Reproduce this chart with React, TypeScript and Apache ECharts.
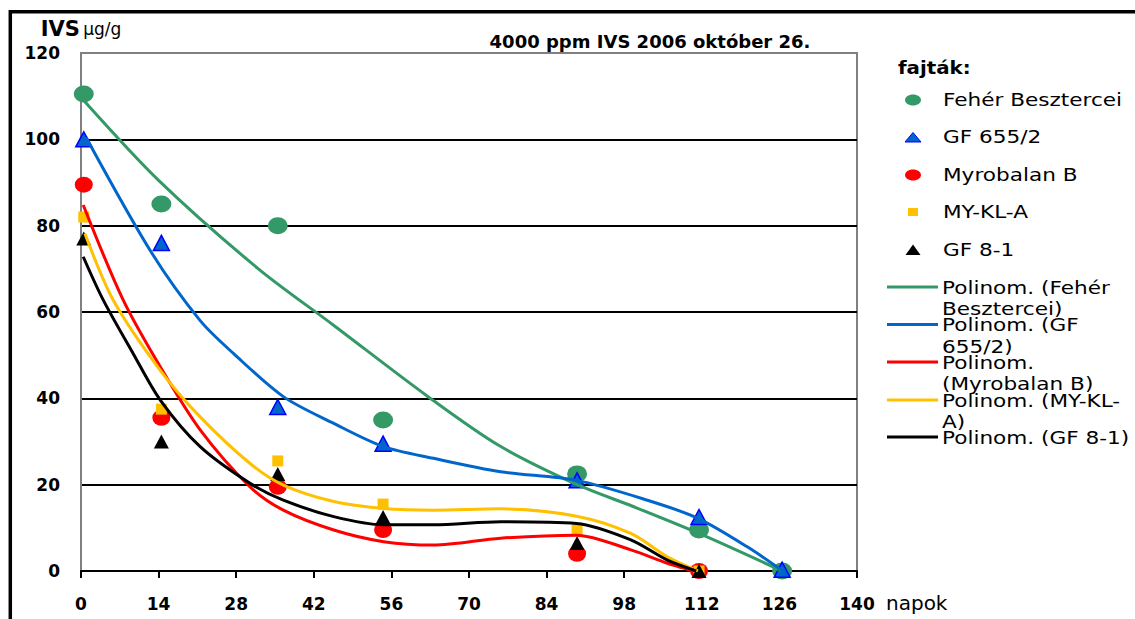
import React, { useEffect, useRef } from "react";
import * as echarts from "echarts";

const FONT = "DejaVu Sans";

// sampling days (napok) of the measured points
const days = [0.5, 14.5, 35.5, 54.5, 89.5, 111.5, 126.5];

// measured IVS values (µg/g)
const feherBesztercei = [110.5, 85, 80, 35, 22.5, 9.5, 0];
const gf6552 = [100, 76, 38, 29.5, 21, 12.5, 0.3];
const myrobalanB = [89.5, 35.5, 19.5, 9.5, 4, 0];
const myKlA = [82, 37.5, 25.5, 15.5, 9.5, 0];
const gf81 = [77, 30, 22.5, 12.5, 6.5, 0];

// polynomial trend curves as [day, value]
const trendFeher = [[0.5, 109], [14, 90.5], [32, 70], [45.5, 57], [62.5, 40.5], [75.5, 29], [89.5, 20], [99.5, 15], [111.5, 8.7], [126.5, 0]];
const trendGf6552 = [[0.9, 100.5], [12.8, 73.6], [21.5, 58], [27.5, 50.4], [36.5, 40.4], [45.6, 34.2], [54.6, 28.8], [63.6, 26.1], [75.7, 23], [89.4, 21], [102.2, 16.4], [111.3, 12.2], [120.2, 5.6], [126.6, 0]];
const trendMyrobalan = [[0.4, 84.8], [7.6, 62.8], [14.3, 47.3], [21.5, 32.7], [30.5, 19.5], [36.5, 14.1], [45.6, 9.5], [54.6, 6.8], [63.6, 6], [75.7, 7.6], [89.4, 8.3], [99.2, 4.9], [105.8, 1.8], [110.5, 0]];
const trendMyKlA = [[0.7, 78.2], [5.8, 62.8], [14.3, 46.5], [21.5, 35.7], [30.5, 24.9], [36.5, 19.9], [45.6, 16.1], [54.6, 14.5], [63.6, 14.1], [75.7, 14.4], [89.4, 12.7], [99.2, 8.7], [105.8, 3.3], [111.3, 0]];
const trendGf81 = [[0.4, 72.8], [4, 62.8], [9.4, 50.4], [14.3, 39.6], [21.5, 28.8], [30.5, 20.3], [36.5, 16.4], [45.6, 12.6], [54.6, 10.7], [63.6, 10.7], [75.7, 11.4], [89.4, 11], [99.2, 7.2], [105.8, 2.5], [111, 0]];

const varietyNames = ["Fehér Besztercei", "GF 655/2", "Myrobalan B", "MY-KL-A", "GF 8-1"];
const trendLegendLines = [
  ["Polinom. (Fehér", "Besztercei)"],
  ["Polinom. (GF", "655/2)"],
  ["Polinom.", "(Myrobalan B)"],
  ["Polinom. (MY-KL-", "A)"],
  ["Polinom. (GF 8-1)"],
];
const titleText = "4000 ppm IVS 2006 október 26.";
const legendTitle = "fajták:";

const GREEN = "#339966";
const BLUE = "#0066cc";
const BLUE_EDGE = "#0000ff";
const RED = "#ff0000";
const YELLOW = "#ffc000";
const BLACK = "#000000";

const ELLIPSE = "path://M0,9 A10,9 0 1 1 20,9 A10,9 0 1 1 0,9 Z";

export default function App() {
  const ref = useRef<HTMLDivElement>(null);

  useEffect(() => {
    if (!ref.current) return;
    const chart = echarts.init(ref.current, null, { renderer: "svg" });

    const measured = [feherBesztercei, gf6552, myrobalanB, myKlA, gf81];
    const trends = [trendFeher, trendGf6552, trendMyrobalan, trendMyKlA, trendGf81];
    const colors = [GREEN, BLUE, RED, YELLOW, BLACK];
    const symbols = [ELLIPSE, "triangle", ELLIPSE, "rect", "triangle"];
    const sizes: any[] = [[20, 17], [16, 15], [18, 16], [11, 11], [15, 14]];

    const scatterSeries = measured.map((vals, i) => ({
      type: "scatter",
      name: varietyNames[i],
      data: vals.map((v, j) => [days[j], v]),
      symbol: symbols[i],
      symbolSize: sizes[i],
      clip: false,
      z: 3,
      itemStyle: {
        color: colors[i],
        opacity: 1,
        borderColor: i === 1 ? BLUE_EDGE : colors[i],
        borderWidth: i === 1 ? 1.5 : 0,
      },
    }));

    const lineSeries = trends.map((pts, i) => ({
      type: "line",
      name: "Polinom. (" + varietyNames[i] + ")",
      data: pts,
      smooth: 0.3,
      symbol: "none",
      showSymbol: false,
      z: 4,
      lineStyle: { color: colors[i], width: 3 },
    }));

    // legend built with graphic elements
    const legendChildren: any[] = [];
    const txt = (x: number, y: number, s: string, bold = false, size = 17, sx = 1.27) => ({
      type: "text",
      x,
      y,
      scaleX: sx,
      silent: true,
      style: {
        text: s,
        x: 0,
        y: 0,
        fill: "#000",
        font: `${bold ? "bold " : ""}${size}px "${FONT}"`,
        verticalAlign: "middle",
        align: "left",
      },
    });
    legendChildren.push(txt(898, 67, legendTitle, true, 18, 1.1));
    const symY = [100, 137.5, 175, 212, 250];
    const sx = 913;
    symY.forEach((y, i) => {
      if (i === 0 || i === 2) {
        legendChildren.push({ type: "ellipse", shape: { cx: sx, cy: y, rx: 8, ry: 5.5 }, style: { fill: colors[i] }, silent: true });
      } else if (i === 1) {
        legendChildren.push({ type: "polygon", shape: { points: [[sx, y - 5], [sx + 8, y + 4.5], [sx - 8, y + 4.5]] }, style: { fill: BLUE, stroke: BLUE_EDGE, lineWidth: 1 }, silent: true });
      } else if (i === 3) {
        legendChildren.push({ type: "rect", shape: { x: sx - 5, y: y - 4, width: 10, height: 8 }, style: { fill: YELLOW }, silent: true });
      } else {
        legendChildren.push({ type: "polygon", shape: { points: [[sx, y - 5.5], [sx + 7.5, y + 5], [sx - 7.5, y + 5]] }, style: { fill: BLACK }, silent: true });
      }
      legendChildren.push(txt(943, y, varietyNames[i]));
    });
    const lineY = [287, 324.5, 362, 400, 437];
    lineY.forEach((y, i) => {
      legendChildren.push({ type: "line", shape: { x1: 887, y1: y, x2: 938, y2: y }, style: { stroke: colors[i], lineWidth: 3 }, silent: true });
      trendLegendLines[i].forEach((s, k) => {
        legendChildren.push(txt(942, y + 1 + k * 21.5, s));
      });
    });

    chart.setOption({
      animation: false,
      backgroundColor: "#ffffff",
      title: {
        text: titleText,
        left: 650,
        top: 32,
        padding: 0,
        textAlign: "center",
        textStyle: { fontFamily: FONT, fontWeight: "bold", fontSize: 18, color: "#000" },
      },
      grid: {
        left: 81,
        right: 278,
        top: 53,
        bottom: 48,
        show: true,
        borderColor: "#808080",
        borderWidth: 2,
        backgroundColor: "transparent",
      },
      xAxis: {
        type: "value",
        min: 0,
        max: 140,
        interval: 14,
        name: "napok",
        nameLocation: "end",
        nameGap: 29,
        nameTextStyle: {
          fontFamily: FONT,
          fontSize: 20,
          color: "#000",
          verticalAlign: "top",
          padding: [22, 0, 0, 0],
        },
        axisLine: { show: true, onZero: false, lineStyle: { color: "#000", width: 2 } },
        axisTick: { show: true, inside: false, length: 7, lineStyle: { color: "#000", width: 2 } },
        axisLabel: { margin: 24, fontFamily: FONT, fontWeight: "bold", fontSize: 17, color: "#000" },
        splitLine: { show: false },
      },
      yAxis: {
        type: "value",
        min: 0,
        max: 120,
        interval: 20,
        name: "{a|IVS} {b|μg/g}",
        nameLocation: "end",
        nameGap: 14,
        nameTextStyle: {
          align: "center",
          rich: {
            a: { fontFamily: FONT, fontWeight: "bold", fontSize: 21, color: "#000" },
            b: { fontFamily: FONT, fontSize: 17, color: "#000" },
          },
        },
        axisLine: { show: true, lineStyle: { color: "#808080", width: 2 } },
        axisTick: { show: false },
        axisLabel: { margin: 21, fontFamily: FONT, fontWeight: "bold", fontSize: 17, color: "#000" },
        splitLine: { show: true, showMinLine: false, showMaxLine: false, lineStyle: { color: "#000", width: 2 } },
      },
      series: [...scatterSeries, ...lineSeries],
      graphic: [
        {
          type: "rect",
          silent: true,
          z: 100,
          shape: { x: 10.3, y: 11.7, width: 1400, height: 900 },
          style: { fill: "none", stroke: "#000", lineWidth: 3.5 },
        },
        { type: "group", children: legendChildren },
      ],
    } as any);

    return () => chart.dispose();
  }, []);

  return (
    <div
      ref={ref}
      style={{ position: "absolute", left: 0, top: 0, width: 1135, height: 619, background: "#fff" }}
    />
  );
}
